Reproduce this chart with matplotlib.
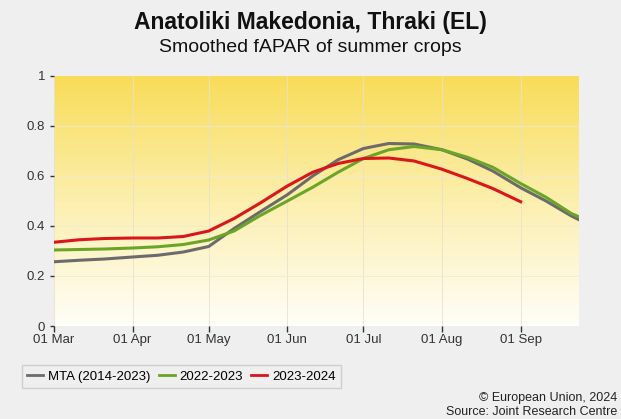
import numpy as np
import matplotlib
matplotlib.use('Agg')
import matplotlib.pyplot as plt
from matplotlib.colors import LinearSegmentedColormap

plt.rcParams['font.family'] = ['Liberation Sans', 'DejaVu Sans']

# days since 01 Mar (dekads + last point)
days = [0, 10, 20, 31, 41, 51, 61, 71, 81, 92, 102, 112, 122, 132, 142,
        153, 163, 173, 184, 194, 204, 207]
mta = [0.257, 0.263, 0.268, 0.276, 0.283, 0.296, 0.318, 0.39, 0.455, 0.525,
       0.60, 0.665, 0.71, 0.73, 0.728, 0.705, 0.668, 0.62, 0.553, 0.50,
       0.44, 0.425]
y2022 = [0.304, 0.306, 0.308, 0.312, 0.317, 0.326, 0.344, 0.38, 0.44, 0.50,
         0.555, 0.615, 0.67, 0.705, 0.718, 0.705, 0.675, 0.635, 0.57, 0.515,
         0.45, 0.437]
days_red = [0, 10, 20, 31, 41, 51, 61, 71, 81, 92, 102, 112, 122, 132, 142,
            153, 163, 173, 184]
y2023 = [0.335, 0.345, 0.35, 0.352, 0.352, 0.358, 0.38, 0.43, 0.49, 0.56,
         0.615, 0.65, 0.67, 0.672, 0.66, 0.627, 0.59, 0.55, 0.497]

tick_days = [0, 31, 61, 92, 122, 153, 184]
tick_labels = ['01 Mar', '01 Apr', '01 May', '01 Jun', '01 Jul', '01 Aug', '01 Sep']

bg = '#efefef'
fig = plt.figure(figsize=(6.21, 4.19), dpi=100, facecolor=bg)
ax = fig.add_axes([54 / 621, 93 / 419, 525 / 621, 250 / 419])
ax.set_facecolor(bg)

xmax = 207
cmap = LinearSegmentedColormap.from_list('fapar', ['#fffef8', '#fcefae', '#f8dc58'])
grad = np.linspace(0, 1, 256).reshape(-1, 1)
ax.imshow(grad, cmap=cmap, origin='lower', aspect='auto',
          extent=[0, xmax, 0, 1], zorder=0)

for d in tick_days:
    ax.axvline(d, color='#e6e2cc', lw=0.6, zorder=1)
for v in [0.2, 0.4, 0.6, 0.8]:
    ax.axhline(v, color='#f0ead0', lw=0.6, zorder=1)

ax.plot(days, mta, color='#6b6b6b', lw=2.2, label='MTA (2014-2023)', zorder=3)
ax.plot(days, y2022, color='#6aa528', lw=2.2, label='2022-2023', zorder=3)
ax.plot(days_red, y2023, color='#d9161a', lw=2.2, label='2023-2024', zorder=4)

ax.set_xlim(0, xmax)
ax.set_ylim(0, 1)
ax.set_xticks(tick_days)
ax.set_xticklabels(tick_labels)
ax.set_yticks([0, 0.2, 0.4, 0.6, 0.8, 1])
ax.set_yticklabels(['0', '0.2', '0.4', '0.6', '0.8', '1'])
ax.tick_params(axis='both', labelsize=9.5, colors='#333333', length=4, width=1)
ax.tick_params(axis='x', pad=2)
ax.tick_params(axis='y', length=3)
for s in ax.spines.values():
    s.set_visible(False)

fig.text(0.5, 1 - 22 / 419, 'Anatoliki Makedonia, Thraki (EL)', ha='center', va='center',
         fontsize=16.5, fontweight='bold', color='#111111')
fig.text(0.5, 1 - 47 / 419, 'Smoothed fAPAR of summer crops', ha='center', va='center',
         fontsize=14, color='#111111')

leg = fig.legend(loc='lower left', bbox_to_anchor=(22 / 621, 1 - 388 / 419), ncol=3,
                 fontsize=9.5, frameon=True, handlelength=1.2, handletextpad=0.4,
                 columnspacing=0.6, borderpad=0.4, borderaxespad=0, fancybox=False)
leg.get_frame().set_facecolor(bg)
leg.get_frame().set_edgecolor('#c8c8c8')
for line in leg.get_lines():
    line.set_linewidth(2)

fig.text(1 - 4 / 621, 1 - 398 / 419, '\u00a9 European Union, 2024', ha='right', va='center',
         fontsize=9, color='#222222')
fig.text(1 - 4 / 621, 1 - 412 / 419, 'Source: Joint Research Centre', ha='right', va='center',
         fontsize=9, color='#222222')

fig.savefig('out.png', dpi=100, facecolor=bg)
